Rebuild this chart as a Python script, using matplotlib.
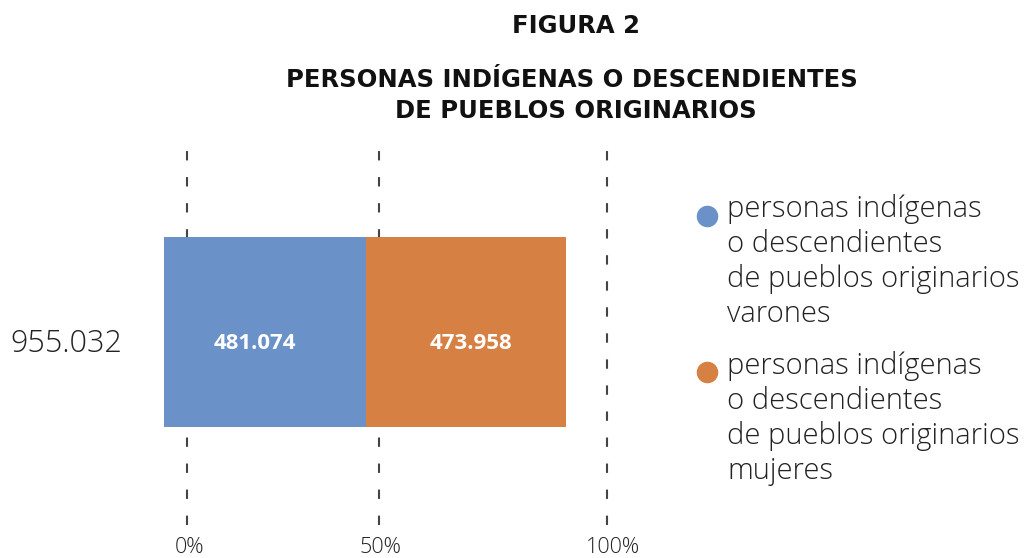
import matplotlib
matplotlib.use("Agg")
import matplotlib.pyplot as plt
from matplotlib.lines import Line2D

# ---- data ----
category = ["955.032"]
series_names = [
    "personas indígenas\no descendientes\nde pueblos originarios\nvarones",
    "personas indígenas\no descendientes\nde pueblos originarios\nmujeres",
]
varones = [481074]
mujeres = [473958]
value_labels = [["481.074"], ["473.958"]]
tick_labels = ["0%", "50%", "100%"]
colors = ["#6A92C8", "#D78044"]

W, H = 1030, 558
fig = plt.figure(figsize=(W / 100, H / 100), dpi=100)
plt.rcParams["font.family"] = ["Open Sans", "DejaVu Sans"]

total = varones[0] + mujeres[0]
upx = total / 402.0  # data units per pixel (bar spans 164..566 px)

ax_l, ax_r = 150, 640
ax_t, ax_b = 140, 530
ax = fig.add_axes([ax_l / W, 1 - ax_b / H, (ax_r - ax_l) / W, (ax_b - ax_t) / H])
ax.set_xlim(-(164 - ax_l) * upx, (ax_r - 164) * upx)
ax.set_ylim(-(ax_b - 332) / 190.0, (332 - ax_t) / 190.0)
ax.axis("off")

txt = "#222222"

# gridlines (reference positions of 0%, 50%, 100% markers)
grid_px = [187, 379, 607]
label_px = [190, 380, 613]
for gp, lp, lab in zip(grid_px, label_px, tick_labels):
    xd = (gp - 164) * upx
    ax.axvline(xd, ymin=(ax_b - 525) / (ax_b - ax_t), ymax=(ax_b - 145) / (ax_b - ax_t),
               color="#444444", lw=1.5, ls=(0, (4.5, 8)), zorder=0)
    fig.text(lp / W, 1 - 553 / H, lab, ha="center", va="baseline", fontsize=15.5,
             color=txt, fontweight=300)

ax.barh([0], varones, height=1.0, color=colors[0], zorder=2)
ax.barh([0], mujeres, left=varones, height=1.0, color=colors[1], zorder=2)
ax.text(varones[0] / 2 - 10 * upx, -0.058, value_labels[0][0], ha="center", va="center",
        color="white", fontsize=16, fontweight="bold", zorder=3)
ax.text(varones[0] + mujeres[0] / 2 + 5 * upx, -0.058, value_labels[1][0], ha="center",
        va="center", color="white", fontsize=16, fontweight="bold", zorder=3)

# category label
fig.text(10 / W, 1 - 352 / H, category[0], ha="left", va="baseline", fontsize=22,
         color=txt, fontweight=300)

# titles
fig.text(576 / W, 1 - 26 / H, "FIGURA 2", ha="center", va="center", fontsize=17.5,
         fontweight="bold", color="#111111", family="DejaVu Sans")
fig.text(572 / W, 1 - 80 / H, "PERSONAS INDÍGENAS O DESCENDIENTES", ha="center",
         va="center", fontsize=17.5, fontweight="bold", color="#111111", family="DejaVu Sans")
fig.text(576 / W, 1 - 111 / H, "DE PUEBLOS ORIGINARIOS", ha="center",
         va="center", fontsize=17.5, fontweight="bold", color="#111111", family="DejaVu Sans")

# legend
for i, (name, ytop, yc) in enumerate(zip(series_names, [194, 351], [216, 372])):
    fig.add_artist(Line2D([707 / W], [1 - yc / H], marker="o",
                          markersize=14.5, color=colors[i], transform=fig.transFigure,
                          ls="none"))
    fig.text(727 / W, 1 - ytop / H, name, ha="left", va="top", fontsize=21,
             color=txt, linespacing=1.24, fontweight=300)

fig.savefig("out.png", dpi=100)
